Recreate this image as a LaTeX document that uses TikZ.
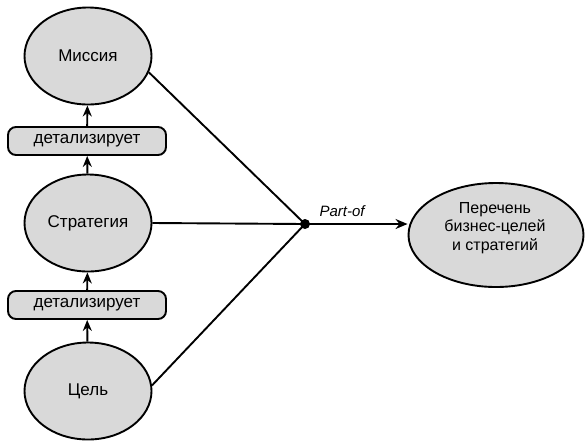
\documentclass[tikz,border=0pt]{standalone}
\usepackage{fontspec}
\setmainfont{Liberation Sans}
\usetikzlibrary{shapes.geometric,arrows.meta}
\definecolor{fillgray}{HTML}{D9D9D9}
\begin{document}
\begin{tikzpicture}[x=1pt,y=-1pt,
  ell/.style={ellipse,draw,line width=1.9pt,fill=fillgray,minimum width=127pt,minimum height=97pt,inner sep=0pt,font=\fontsize{17}{19}\selectfont},
  rel/.style={rounded corners=8pt,draw,line width=1.9pt,fill=fillgray,minimum width=158pt,minimum height=28pt,inner sep=0pt,font=\fontsize{17}{19}\selectfont},
  conn/.style={line width=1.9pt},
  up/.style={line width=1.9pt,-{Stealth[length=11pt,width=9pt]}}]
\useasboundingbox (0,0) rectangle (585,440);
\node[ell] (mis) at (88,56) {Миссия};
\node[rel] (d1) at (87,141) {детализирует};
\node[ell] (str) at (88,223) {Стратегия};
\node[rel] (d2) at (87,305) {детализирует};
\node[ell] (cel) at (88,391) {Цель};
\node[ell,minimum width=175pt,minimum height=104pt] (per) at (496,235) {};
\node[align=center,font=\fontsize{16}{18.5}\selectfont] (pertext) at (495,228) {Перечень\\бизнес-целей\\и стратегий};
\coordinate (dot) at (305,224);
\fill (dot) circle (5pt);
\draw[conn] (mis.-15) -- (dot);
\draw[conn] (str.east) -- (dot);
\draw[conn] (cel.5) -- (dot);
\draw[line width=1.9pt,-{Stealth[length=12pt,width=10pt]}] (dot) -- (dot -| per.west);
\node[anchor=base west,font=\itshape\fontsize{15}{17}\selectfont] (lbl) at (316,216) {Part-of};
\draw[up] (d1) -- (mis);
\draw[up] (str) -- (d1);
\draw[up] (d2) -- (str);
\draw[up] (cel) -- (d2);
\end{tikzpicture}
\end{document}
